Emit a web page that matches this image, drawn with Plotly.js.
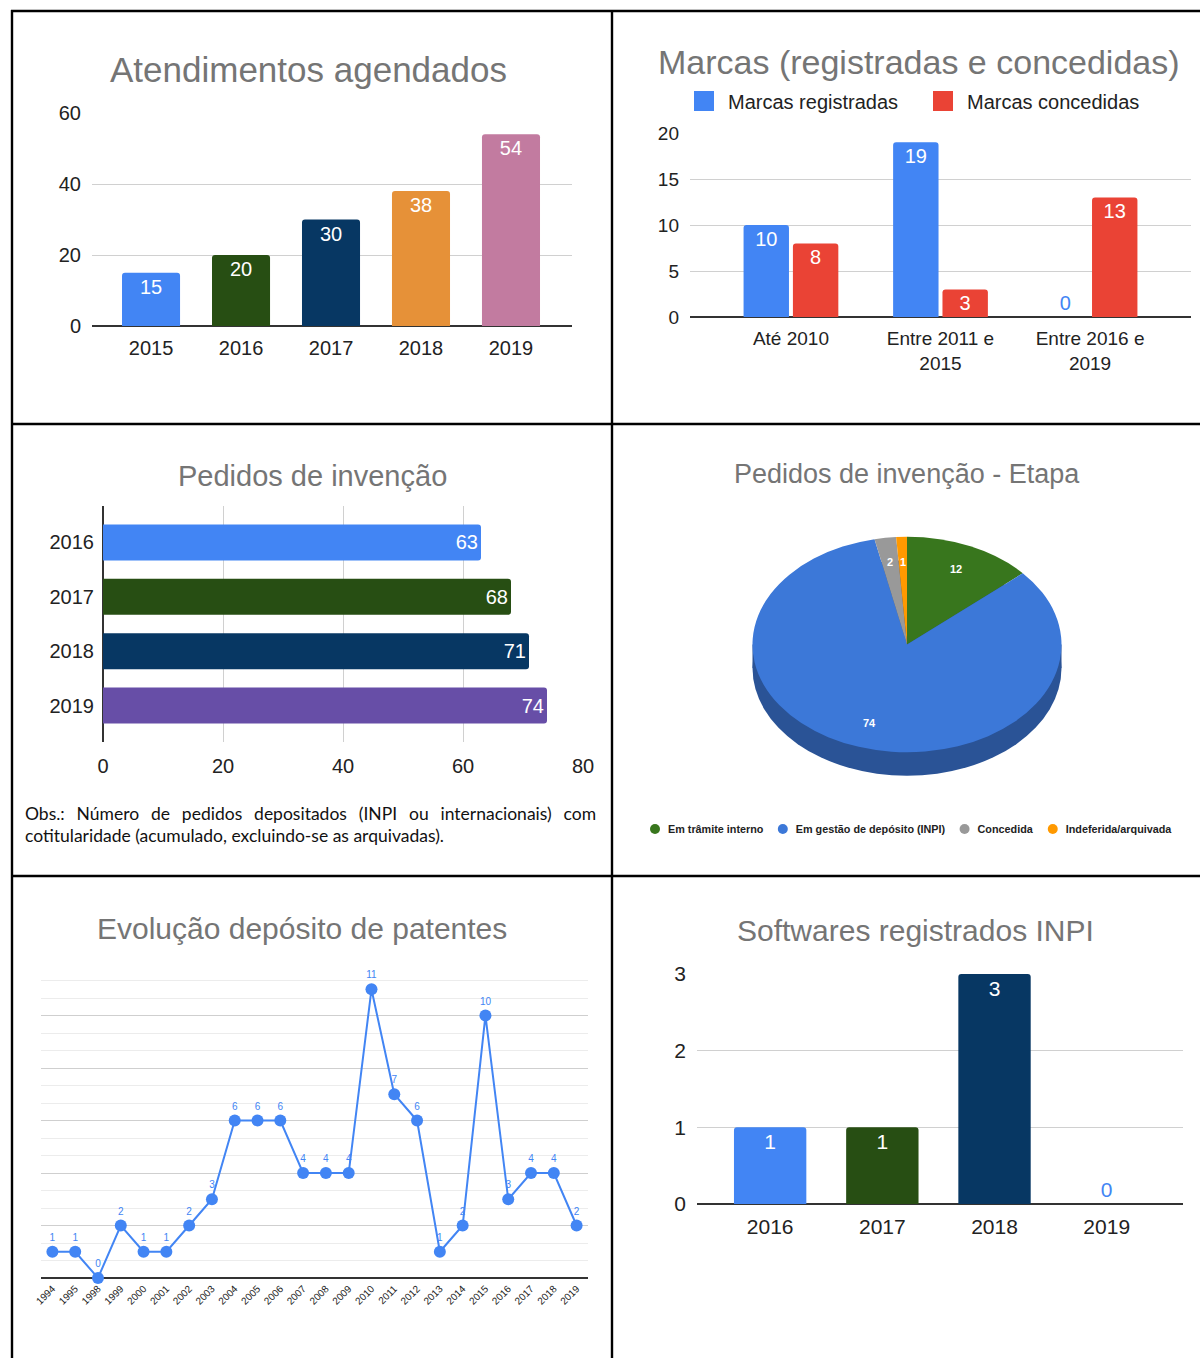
<!DOCTYPE html>
<html><head><meta charset="utf-8">
<script src="https://cdn.plot.ly/plotly-3.0.1.min.js"></script>
<style>html,body{margin:0;padding:0;background:#fff;overflow:hidden;} #chart{width:1200px;height:1358px;}</style>
</head><body><div id="chart"></div>
<script>
// ---------------- DATA ----------------
const atendYears = ['2015', '2016', '2017', '2018', '2019'];
const atendValues = [15, 20, 30, 38, 54];
const atendColors = ['#4285f4', '#274e13', '#073763', '#e69138', '#c27ba0'];

const marcasCats = ['Até 2010', 'Entre 2011 e<br>2015', 'Entre 2016 e<br>2019'];
const marcasRegistradas = [10, 19, 0];
const marcasConcedidas = [8, 3, 13];

const invYears = ['2016', '2017', '2018', '2019'];
const invValues = [63, 68, 71, 74];
const invColors = ['#4285f4', '#274e13', '#073763', '#674ea7'];

const etapaLabels = ['Em trâmite interno', 'Em gestão de depósito (INPI)', 'Concedida', 'Indeferida/arquivada'];
const etapaValues = [12, 74, 2, 1];
const etapaColors = ['#38761d', '#3c78d8', '#999999', '#ff9900'];

const patYears = ['1994', '1995', '1998', '1999', '2000', '2001', '2002', '2003', '2004', '2005', '2006', '2007',
                  '2008', '2009', '2010', '2011', '2012', '2013', '2014', '2015', '2016', '2017', '2018', '2019'];
const patValues = [1, 1, 0, 2, 1, 1, 2, 3, 6, 6, 6, 4, 4, 4, 11, 7, 6, 1, 2, 10, 3, 4, 4, 2];

const softYears = ['2016', '2017', '2018', '2019'];
const softValues = [1, 1, 3, 0];
const softColors = ['#4285f4', '#274e13', '#073763', '#4285f4'];

const titles = ['Atendimentos agendados', 'Marcas (registradas e concedidas)', 'Pedidos de invenção',
                'Pedidos de invenção - Etapa', 'Evolução depósito de patentes', 'Softwares registrados INPI'];
const obsLine1 = 'Obs.: Número de pedidos depositados (INPI ou internacionais) com';
const obsLine2 = 'cotitularidade (acumulado, excluindo-se as arquivadas).';

// ---------------- HELPERS ----------------
const W = 1200, H = 1358;
const px = x => x / W;
const py = y => 1 - y / H;
const FONT = '"Liberation Sans", Arial, sans-serif';
const TICK = {family: FONT, size: 20, color: '#222222'};
const LABEL_W = {family: FONT, size: 20, color: '#ffffff'};
const GRID = '#d0d0d0';
const BASE = '#333333';
const posFor = v => v > 0 ? 'inside' : 'outside';

// pie geometry
const pieCx = 907, pieCy = 644.5, pieR = 154.5, pieRy = 107.7, pieDepth = 23.5;
const pieK = pieRy / pieR;

// ---------------- TRACES ----------------
const barCommon = {textangle: 0, insidetextanchor: 'end', hoverinfo: 'none', cliponaxis: false};
const traces = [
  Object.assign({type: 'bar', x: atendYears, y: atendValues, xaxis: 'x', yaxis: 'y', width: 0.645,
   marker: {color: atendColors, cornerradius: 3, line: {width: 0}},
   text: atendValues.map(String), textposition: 'inside', textfont: LABEL_W, showlegend: false}, barCommon),
  Object.assign({type: 'bar', name: 'Marcas registradas', x: marcasCats, y: marcasRegistradas, xaxis: 'x2', yaxis: 'y2',
   marker: {color: '#4285f4', cornerradius: 3, line: {width: 0}},
   text: marcasRegistradas.map(String), textposition: marcasRegistradas.map(posFor),
   insidetextfont: LABEL_W, outsidetextfont: {family: FONT, size: 20, color: '#4285f4'}, legend: 'legend'}, barCommon),
  Object.assign({type: 'bar', name: 'Marcas concedidas', x: marcasCats, y: marcasConcedidas, xaxis: 'x2', yaxis: 'y2',
   marker: {color: '#ea4335', cornerradius: 3, line: {width: 0}},
   text: marcasConcedidas.map(String), textposition: marcasConcedidas.map(posFor),
   insidetextfont: LABEL_W, outsidetextfont: {family: FONT, size: 20, color: '#ea4335'}, legend: 'legend'}, barCommon),
  Object.assign({type: 'bar', orientation: 'h', y: invYears, x: invValues, xaxis: 'x3', yaxis: 'y3', width: 0.66,
   marker: {color: invColors, cornerradius: 3, line: {width: 0}},
   text: invValues.map(String), textposition: 'inside', textfont: LABEL_W, showlegend: false}, barCommon),
  {type: 'pie', labels: etapaLabels, values: etapaValues, sort: false, direction: 'clockwise', rotation: 0,
   marker: {colors: etapaColors, line: {width: 0}}, textinfo: 'none', hoverinfo: 'none',
   domain: {x: [px(pieCx - pieR), px(pieCx + pieR)], y: [py(pieCy + pieR), py(pieCy - pieR)]},
   legend: 'legend2', showlegend: true},
  {type: 'scatter', mode: 'lines+markers+text', x: patYears, y: patValues, xaxis: 'x4', yaxis: 'y4',
   line: {color: '#4285f4', width: 2}, marker: {color: '#4285f4', size: 12},
   text: patValues.map(String), textposition: 'top center',
   textfont: {family: FONT, size: 10, color: '#4285f4'}, showlegend: false, hoverinfo: 'none', cliponaxis: false},
  Object.assign({type: 'bar', x: softYears, y: softValues, xaxis: 'x5', yaxis: 'y5', width: 0.645,
   marker: {color: softColors, cornerradius: 3, line: {width: 0}},
   text: softValues.map(String), textposition: softValues.map(posFor),
   insidetextfont: {family: FONT, size: 21, color: '#ffffff'}, outsidetextfont: {family: FONT, size: 21, color: '#4285f4'},
   showlegend: false}, barCommon)
];

// ---------------- ANNOTATIONS ----------------
const titleSpecs = [
  {x: 308, y: 69, size: 35}, {x: 919, y: 62, size: 34}, {x: 313, y: 476, size: 29},
  {x: 907, y: 474, size: 27}, {x: 302, y: 928, size: 30}, {x: 915, y: 930, size: 30}
];
const annotations = titles.map((t, i) => ({
  text: t, xref: 'paper', yref: 'paper', x: px(titleSpecs[i].x), y: py(titleSpecs[i].y),
  xanchor: 'center', yanchor: 'middle', showarrow: false,
  font: {family: FONT, size: titleSpecs[i].size, color: '#757575'}
}));
const OBS_FONT = {family: 'Lato, "Open Sans", sans-serif', size: 17.5, color: '#111111'};
annotations.push({text: obsLine1, xref: 'paper', yref: 'paper', x: px(24), y: py(813), xanchor: 'left',
  yanchor: 'middle', align: 'left', showarrow: false, font: OBS_FONT});
annotations.push({text: obsLine2, xref: 'paper', yref: 'paper', x: px(23), y: py(835), xanchor: 'left',
  yanchor: 'middle', align: 'left', showarrow: false, font: OBS_FONT});
// pie value labels, placed along each slice's mid-angle
const etapaTotal = etapaValues.reduce((a, b) => a + b, 0);
let cum = 0;
etapaValues.forEach(v => {
  const mid = (cum + v / 2) / etapaTotal * 2 * Math.PI;
  cum += v;
  const rr = pieR * 0.77;
  annotations.push({
    text: String(v), xref: 'paper', yref: 'paper', showarrow: false,
    x: px(pieCx + Math.sin(mid) * rr), y: py(pieCy - Math.cos(mid) * rr * pieK),
    xanchor: 'center', yanchor: 'middle',
    font: {family: FONT, size: 11, color: '#ffffff', weight: 700}
  });
});

// ---------------- SHAPES ----------------
const line = (x0, y0, x1, y1) => ({type: 'line', xref: 'paper', yref: 'paper',
  x0: px(x0), y0: py(y0), x1: px(x1), y1: py(y1), line: {color: '#000', width: 2.4}, layer: 'above'});
const shapes = [
  line(11, 11, 1200, 11), line(12, 10, 12, 1358), line(612, 10, 612, 1358),
  line(12, 424, 1200, 424), line(12, 876, 1200, 876),
  // 3D side of the pie
  {type: 'circle', xref: 'paper', yref: 'paper', layer: 'below',
   x0: px(pieCx - pieR), x1: px(pieCx + pieR), y0: py(pieCy + pieDepth + pieRy), y1: py(pieCy + pieDepth - pieRy),
   fillcolor: '#2a5396', line: {width: 0}},
  {type: 'rect', xref: 'paper', yref: 'paper', layer: 'below',
   x0: px(pieCx - pieR), x1: px(pieCx + pieR), y0: py(pieCy + pieDepth), y1: py(pieCy),
   fillcolor: '#2a5396', line: {width: 0}}
];

// ---------------- LAYOUT ----------------
const catX = (domain, range, anchor, extra) => Object.assign({
  domain: domain, range: range, type: 'category', anchor: anchor, showgrid: false, zeroline: false,
  showline: false, ticks: '', tickfont: TICK, ticklabelstandoff: 8, fixedrange: true, automargin: false}, extra || {});
const valY = (domain, range, dtick, anchor, extra) => Object.assign({
  domain: domain, range: range, dtick: dtick, anchor: anchor, showgrid: true, gridcolor: GRID, gridwidth: 1,
  zeroline: true, zerolinecolor: BASE, zerolinewidth: 2, showline: false, ticks: '',
  tickfont: TICK, ticklabelstandoff: 10, fixedrange: true, automargin: false}, extra || {});

const layout = {
  width: W, height: H, autosize: false, margin: {l: 0, r: 0, t: 0, b: 0, autoexpand: false},
  paper_bgcolor: '#ffffff', plot_bgcolor: 'rgba(0,0,0,0)',
  font: {family: FONT, color: '#222'},
  barmode: 'group', bargap: 0.34, bargroupgap: 0.08,
  uniformtext: {mode: 'show', minsize: 20},
  showlegend: true,
  xaxis: catX([px(92), px(572)], [-0.656, 4.678], 'y'),
  yaxis: valY([py(326), py(113)], [0, 60], 20, 'x'),
  xaxis2: catX([px(690), px(1191)], [-0.675, 2.675], 'y2', {tickfont: {family: FONT, size: 19, color: '#222'}}),
  yaxis2: valY([py(317), py(133)], [0, 20], 5, 'x2', {tickfont: {family: FONT, size: 19, color: '#222'}}),
  xaxis3: {domain: [px(103), px(583)], range: [0, 80], dtick: 20, anchor: 'y3', showgrid: true, gridcolor: GRID,
           zeroline: true, zerolinecolor: BASE, zerolinewidth: 2, ticks: '', tickfont: TICK,
           ticklabelstandoff: 10, fixedrange: true, automargin: false},
  yaxis3: {domain: [py(742), py(506)], range: [3.67, -0.67], type: 'category', anchor: 'x3', showgrid: false,
           zeroline: false, ticks: '', tickfont: TICK, ticklabelstandoff: 8, fixedrange: true, automargin: false},
  xaxis4: catX([px(41), px(588)], [-0.5, 23.5], 'y4', {tickangle: -45,
           tickfont: {family: FONT, size: 10, color: '#222'}, ticklabelstandoff: 2}),
  yaxis4: valY([py(1278), py(963)], [0, 12], 2, 'x4', {showticklabels: false, gridcolor: '#cfcfcf',
           minor: {dtick: 2 / 3, showgrid: true, gridcolor: '#ececec', gridwidth: 1}}),
  xaxis5: catX([px(697), px(1183)], [-0.652, 3.68], 'y5', {tickfont: {family: FONT, size: 21, color: '#222'}}),
  yaxis5: valY([py(1204), py(974)], [0, 3], 1, 'x5', {tickfont: {family: FONT, size: 21, color: '#222'}}),
  legend: {orientation: 'h', x: px(688), y: py(101), xanchor: 'left', yanchor: 'middle',
           font: {family: FONT, size: 20, color: '#222'}, entrywidth: 194, entrywidthmode: 'pixels',
           bgcolor: 'rgba(0,0,0,0)', traceorder: 'normal'},
  legend2: {orientation: 'h', x: px(907), y: py(829), xanchor: 'center', yanchor: 'middle',
            font: {family: FONT, size: 10.8, color: '#222', weight: 700}, bgcolor: 'rgba(0,0,0,0)',
            traceorder: 'normal'},
  annotations: annotations,
  shapes: shapes
};

function parseTranslate(el) {
  const m = /translate\(\s*([-\d.e]+)[ ,]+([-\d.e]+)\s*\)/.exec(el.getAttribute('transform') || '');
  return m ? [parseFloat(m[1]), parseFloat(m[2])] : [0, 0];
}

Plotly.newPlot('chart', traces, layout, {staticPlot: true, displayModeBar: false}).then(gd => {
  // flatten the pie into the tilted ellipse of the reference
  const pl = gd.querySelector('.pielayer');
  if (pl) pl.setAttribute('transform', `translate(0,${pieCy}) scale(1,${pieK}) translate(0,${-pieCy})`);

  // bar legend: larger squares, closer to their text
  gd.querySelectorAll('g.legend .legendpoints path').forEach(p => {
    p.setAttribute('d', 'M10,10H-10V-10H10Z');
    p.setAttribute('transform', 'translate(16,0)');
  });

  // pie legend: round dots, compact spacing
  const lg2 = gd.querySelector('g.legend2');
  if (lg2) {
    lg2.querySelectorAll('.legendpoints path').forEach(p => {
      p.setAttribute('d', 'M5,0A5,5 0 1,1 0,-5A5,5 0 0,1 5,0Z');
      p.setAttribute('transform', 'translate(27,0)');
      p.style.strokeWidth = '0';
    });
    const items = Array.from(lg2.querySelectorAll('g.traces'));
    items.forEach((it, i) => {
      const t = parseTranslate(it);
      it.setAttribute('transform', `translate(${t[0] - 13 * i},${t[1]})`);
    });
    // keep the compacted row centred: left edge moved +8, right edge moved -13*(n-1)
    const shift = -(8 - 13 * (items.length - 1)) / 2;
    const t = parseTranslate(lg2);
    lg2.setAttribute('transform', `translate(${t[0] + shift},${t[1]})`);
  }

  // justify the first line of the note across the panel width
  gd.querySelectorAll('.annotation-text').forEach(tx => {
    if (tx.textContent === obsLine1) {
      const len = tx.getComputedTextLength();
      const gaps = obsLine1.split(' ').length - 1;
      const extra = (596 - 25 - len) / gaps;
      if (extra > 0) {
        tx.style.wordSpacing = extra.toFixed(2) + 'px';
        const r = tx.getBoundingClientRect();
        const dx = 25 - (r.left - gd.getBoundingClientRect().left);
        const cur = parseFloat(tx.getAttribute('x') || '0');
        tx.setAttribute('x', cur + dx);
        tx.querySelectorAll('tspan[x]').forEach(s => s.setAttribute('x', parseFloat(s.getAttribute('x')) + dx));
      }
    }
  });
});
</script>
</body></html>
